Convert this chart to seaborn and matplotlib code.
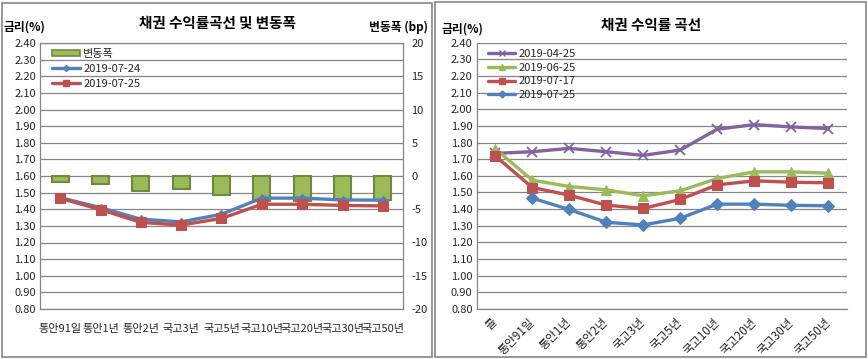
import numpy as np
import pandas as pd
import matplotlib
matplotlib.use("Agg")
import matplotlib.pyplot as plt
from matplotlib.patches import Rectangle, Patch
from matplotlib.lines import Line2D
from matplotlib.ticker import MultipleLocator, FixedLocator
import seaborn as sns

# ---------------- data ----------------
tenors_left = ['통안91일', '통안1년', '통안2년', '국고3년', '국고5년',
               '국고10년', '국고20년', '국고30년', '국고50년']
yield_0724 = [1.470, 1.410, 1.340, 1.324, 1.370, 1.467, 1.467, 1.456, 1.455]
yield_0725 = [1.466, 1.398, 1.321, 1.305, 1.345, 1.430, 1.430, 1.423, 1.420]
change_bp = [-0.9, -1.2, -2.2, -2.0, -2.8, -3.7, -3.7, -3.6, -3.6]

tenors_right = ['콜', '통안91일', '통안1년', '통안2년', '국고3년', '국고5년',
                '국고10년', '국고20년', '국고30년', '국고50년']
curve_0425 = [1.735, 1.745, 1.765, 1.745, 1.723, 1.755, 1.880, 1.908, 1.894, 1.884]
curve_0625 = [1.763, 1.574, 1.536, 1.516, 1.480, 1.510, 1.584, 1.624, 1.624, 1.616]
curve_0717 = [1.720, 1.530, 1.484, 1.424, 1.404, 1.458, 1.546, 1.570, 1.562, 1.558]
curve_0725 = [np.nan, 1.466, 1.398, 1.321, 1.305, 1.345, 1.430, 1.430, 1.423, 1.420]

title_left = '채권 수익률곡선 및 변동폭'
title_right = '채권 수익률 곡선'

# ---------------- style ----------------
sns.set_style('white')
plt.rcParams['font.family'] = ['Noto Sans CJK KR', 'DejaVu Sans']
plt.rcParams['axes.unicode_minus'] = False

BLUE = '#4F81BD'
RED = '#C0504D'
GREEN = '#9BBB59'
GREEN_EDGE = '#71893F'
PURPLE = '#8064A2'
GRID = '#868686'
TXT = '#000000'

W, H = 868, 359
fig = plt.figure(figsize=(W / 100, H / 100), dpi=100)
fig.patch.set_facecolor('white')


def fx(px):
    return px / W


def fy(py):
    return 1 - py / H


# panel borders
fig.patches.append(Rectangle((fx(1.5), fy(356.5)), fx(430), 354 / H,
                             transform=fig.transFigure, fill=False, edgecolor=GRID, lw=1.2))
fig.patches.append(Rectangle((fx(434.5), fy(356.5)), fx(431), 355 / H,
                             transform=fig.transFigure, fill=False, edgecolor=GRID, lw=1.2))

# ---------------- left chart ----------------
axL = fig.add_axes([fx(40), fy(309), fx(403 - 40), (309 - 43) / H])
axL2 = axL.twinx()
axL.set_zorder(axL2.get_zorder() + 1)
axL.patch.set_visible(False)

xl = np.arange(len(tenors_left))
sns.barplot(x=xl, y=change_bp, ax=axL2, color=GREEN, width=0.42,
            edgecolor=GREEN_EDGE, linewidth=1.5, saturation=1, label='변동폭')
sns.lineplot(x=xl, y=yield_0724, ax=axL, color=BLUE, lw=2.4, marker='D',
             markersize=4, markeredgecolor=BLUE, label='2019-07-24', sort=False)
sns.lineplot(x=xl, y=yield_0725, ax=axL, color=RED, lw=2.4, marker='s',
             markersize=6.5, markeredgecolor=RED, label='2019-07-25', sort=False)

axL.set_xlim(-0.5, len(tenors_left) - 0.5)
axL.set_ylim(0.8, 2.4)
axL2.set_ylim(-20, 20)
axL.set_yticks(np.arange(0.8, 2.401, 0.1))
axL.set_yticklabels([f'{v:.2f}' for v in np.arange(0.8, 2.401, 0.1)], fontsize=8)
axL2.set_yticks(np.arange(-20, 21, 5))
axL2.set_yticklabels([str(v) for v in range(-20, 21, 5)], fontsize=8)
axL2.yaxis.set_minor_locator(MultipleLocator(2.5))
axL2.grid(True, which='both', axis='y', color=GRID, lw=0.9)
axL2.grid(False, axis='x')
axL.grid(False)
axL.set_xticks(xl)
axL.set_xticklabels(tenors_left, fontsize=8)
axL.xaxis.set_minor_locator(FixedLocator(np.arange(-0.5, len(tenors_left), 1.0)))
axL.tick_params(axis='x', which='major', length=0, pad=11)
axL.tick_params(axis='x', which='minor', length=4, color=GRID, width=0.9)
axL.tick_params(axis='y', length=0, pad=3)
axL2.tick_params(axis='y', which='both', length=0, pad=6)
axL.set_xlabel('')
axL.set_ylabel('')
axL2.set_ylabel('')
for s in axL.spines.values():
    s.set_color(GRID)
    s.set_linewidth(0.9)
for s in axL2.spines.values():
    s.set_visible(False)

leg_handles = [Patch(facecolor=GREEN, edgecolor=GREEN_EDGE, lw=1.2),
               Line2D([], [], color=BLUE, lw=2.4, marker='D', markersize=3),
               Line2D([], [], color=RED, lw=2.4, marker='s', markersize=5)]
if axL2.get_legend():
    axL2.get_legend().remove()
axL.legend(leg_handles, ['변동폭', '2019-07-24', '2019-07-25'], loc='upper left',
           bbox_to_anchor=(12 / 363, 1 - 6 / 266), frameon=False, fontsize=8,
           handlelength=2.5, handletextpad=0.3, labelspacing=0.45, borderpad=0,
           borderaxespad=0, handleheight=0.5)

fig.text(fx(217), fy(22.5), title_left, ha='center', va='center', fontsize=10.5,
         fontweight='bold', color=TXT)
fig.text(fx(4), fy(27.5), '금리(%)', ha='left', va='center', fontsize=8.5,
         fontweight='bold', color=TXT)
fig.text(fx(428), fy(27.5), '변동폭 (bp)', ha='right', va='center', fontsize=8.5,
         fontweight='bold', color=TXT)

# ---------------- right chart ----------------
axR = fig.add_axes([fx(476.7), fy(309), fx(846.7 - 476.7), (309 - 42.7) / H])
xr = np.arange(len(tenors_right))
sns.lineplot(x=xr, y=curve_0425, ax=axR, color=PURPLE, lw=2.4, marker='x',
             markersize=7.5, markeredgewidth=1.3, markeredgecolor=PURPLE,
             label='2019-04-25', sort=False)
sns.lineplot(x=xr, y=curve_0625, ax=axR, color=GREEN, lw=2.4, marker='^',
             markersize=7, markeredgecolor=GREEN, label='2019-06-25', sort=False)
sns.lineplot(x=xr, y=curve_0717, ax=axR, color=RED, lw=2.4, marker='s',
             markersize=7, markeredgecolor=RED, label='2019-07-17', sort=False)
sns.lineplot(x=xr, y=curve_0725, ax=axR, color=BLUE, lw=2.4, marker='D',
             markersize=6, markeredgecolor=BLUE, label='2019-07-25', sort=False)

axR.set_xlim(-0.5, len(tenors_right) - 0.5)
axR.set_ylim(0.8, 2.4)
axR.set_yticks(np.arange(0.8, 2.401, 0.1))
axR.set_yticklabels([f'{v:.2f}' for v in np.arange(0.8, 2.401, 0.1)], fontsize=8)
axR.grid(True, axis='y', color=GRID, lw=0.9)
axR.grid(False, axis='x')
axR.set_axisbelow(True)
axR.set_xticks(xr)
axR.set_xticklabels(tenors_right, fontsize=8.5, rotation=45, ha='right',
                    va='center', rotation_mode='anchor')
axR.xaxis.set_minor_locator(FixedLocator(np.arange(-0.5, len(tenors_right), 1.0)))
axR.tick_params(axis='x', which='major', length=0, pad=8)
axR.tick_params(axis='x', which='minor', length=4, color=GRID, width=0.9)
axR.tick_params(axis='y', length=0, pad=3)
axR.set_xlabel('')
axR.set_ylabel('')
for k, s in axR.spines.items():
    s.set_color(GRID)
    s.set_linewidth(0.9)
axR.spines['right'].set_visible(False)
axR.spines['top'].set_visible(False)

rh = [Line2D([], [], color=PURPLE, lw=2.4, marker='x', markersize=5, markeredgewidth=1),
      Line2D([], [], color=GREEN, lw=2.4, marker='^', markersize=4.5),
      Line2D([], [], color=RED, lw=2.4, marker='s', markersize=5),
      Line2D([], [], color=BLUE, lw=2.4, marker='D', markersize=3.5)]
axR.legend(rh, ['2019-04-25', '2019-06-25', '2019-07-17', '2019-07-25'], loc='upper left',
           bbox_to_anchor=(11 / 370, 1 - 6 / 266), frameon=False, fontsize=8,
           handlelength=2.5, handletextpad=0.3, labelspacing=0.35, borderpad=0,
           borderaxespad=0)

fig.text(fx(651.5), fy(25), title_right, ha='center', va='center', fontsize=10.5,
         fontweight='bold', color=TXT)
fig.text(fx(442), fy(29), '금리(%)', ha='left', va='center', fontsize=8.5,
         fontweight='bold', color=TXT)

fig.savefig('out.png', dpi=100, facecolor='white')
